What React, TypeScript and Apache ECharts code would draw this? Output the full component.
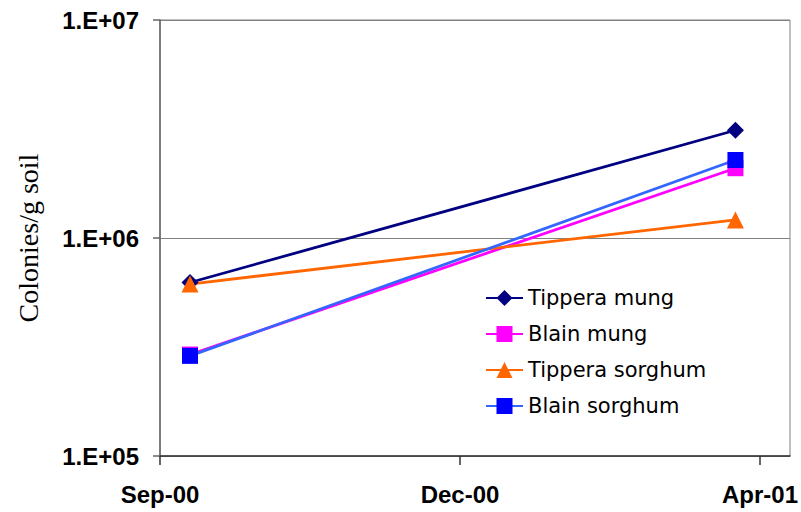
import React, { useEffect, useRef } from "react";
import * as echarts from "echarts";

// x values are days after 1 Sep 2000
const sampleDays = [11, 211];
const xTickValues = [0, 110, 220];
const xTickLabels = ["Sep-00", "Dec-00", "Apr-01"];
const xMin = 0;
const xMax = 231;

const tipperaMung = [6.25e5, 3.12e6];
const blainMung = [2.92e5, 2.09e6];
const tipperaSorghum = [6.15e5, 1.21e6];
const blainSorghum = [2.88e5, 2.28e6];

const yMin = 1e5;
const yMax = 1e7;

const seriesNames = ["Tippera mung", "Blain mung", "Tippera sorghum", "Blain sorghum"];

function pairs(vals: number[]) {
  return vals.map((v, i) => [sampleDays[i], v]);
}

export default function App() {
  const ref = useRef<HTMLDivElement>(null);
  useEffect(() => {
    if (!ref.current) return;
    const chart = echarts.init(ref.current, null, { renderer: "svg" });
    const mk = (
      name: string,
      vals: number[],
      lineColor: string,
      markerColor: string,
      symbol: string,
      size: number
    ) => ({
      name,
      type: "line",
      data: pairs(vals),
      symbol,
      symbolSize: size,
      lineStyle: { color: lineColor, width: 2.8 },
      itemStyle: { color: markerColor, borderWidth: 0 },
      color: markerColor,
    });
    chart.setOption({
      animation: false,
      backgroundColor: "#ffffff",
      grid: {
        left: 160,
        top: 20,
        right: 9,
        bottom: 56,
        show: true,
        borderColor: "#808080",
        borderWidth: 1,
        backgroundColor: "#ffffff",
      },
      xAxis: {
        type: "value",
        min: xMin,
        max: xMax,
        interval: 110,
        axisLine: { show: true, lineStyle: { color: "#333333", width: 1.5 } },
        axisTick: {
          show: true,
          length: 9,
          inside: false,
          customValues: xTickValues,
          lineStyle: { color: "#333333", width: 1.5 },
        },
        axisLabel: {
          customValues: xTickValues,
          formatter: (v: number) => {
            const i = xTickValues.indexOf(v);
            return i >= 0 ? xTickLabels[i] : "";
          },
          fontFamily: "Liberation Sans",
          fontWeight: "bold",
          fontSize: 24,
          color: "#000000",
          margin: 26,
        },
        splitLine: { show: false },
      },
      yAxis: {
        type: "log",
        logBase: 10,
        min: yMin,
        max: yMax,
        name: "Colonies/g soil",
        nameLocation: "middle",
        nameGap: 118,
        nameTextStyle: {
          fontFamily: "Liberation Serif",
          fontSize: 28,
          color: "#000000",
        },
        axisLine: { show: true, lineStyle: { color: "#666666", width: 1.5 } },
        axisTick: { show: true, length: 7, lineStyle: { color: "#666666", width: 1.5 } },
        axisLabel: {
          formatter: (v: number) =>
            "1.E+" + String(Math.round(Math.log10(v))).padStart(2, "0"),
          fontFamily: "Liberation Sans",
          fontWeight: "bold",
          fontSize: 24,
          color: "#000000",
          margin: 21,
        },
        splitLine: { show: true, lineStyle: { color: "#808080", width: 1 } },
        minorTick: { show: false },
        minorSplitLine: { show: false },
      },
      legend: {
        orient: "vertical",
        left: 485,
        top: 287,
        padding: 0,
        itemWidth: 37,
        itemHeight: 20,
        itemGap: 14,
        data: seriesNames,
        textStyle: {
          fontFamily: "DejaVu Sans",
          fontSize: 21,
          lineHeight: 22,
          color: "#000000",
        },
      },
      series: [
        mk(seriesNames[0], tipperaMung, "#000080", "#000080", "diamond", 17),
        mk(seriesNames[1], blainMung, "#FF00FF", "#FF00FF", "rect", 16),
        mk(seriesNames[2], tipperaSorghum, "#FF6600", "#FF6600", "triangle", 17),
        mk(seriesNames[3], blainSorghum, "#3366FF", "#0000FF", "rect", 16),
      ],
    });
    return () => chart.dispose();
  }, []);
  return (
    <div
      ref={ref}
      style={{ position: "absolute", left: 0, top: 0, width: 801, height: 512 }}
    />
  );
}
